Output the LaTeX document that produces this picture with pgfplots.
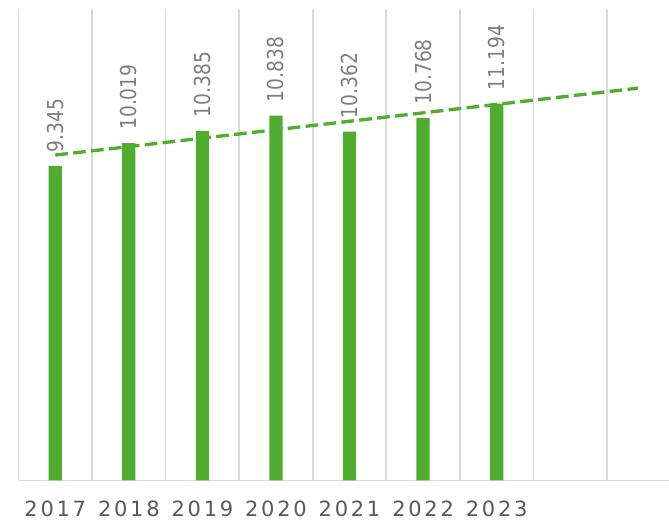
\documentclass[border=0pt]{standalone}
\usepackage{fontspec}
\setmainfont{DejaVu Sans}
\newfontfamily\labfont[FakeStretch=0.85]{DejaVu Sans}
\newfontfamily\tickfont[LetterSpace=13]{DejaVu Sans}
\usepackage{pgfplots}
\pgfplotsset{compat=1.18}
\definecolor{bargreen}{HTML}{50AD30}
\definecolor{gridgray}{HTML}{D9D9D9}
\definecolor{labgray}{HTML}{7F7F7F}
\definecolor{tickgray}{HTML}{595959}
\begin{document}
\begin{tikzpicture}
\path[use as bounding box] (0,0) rectangle (501.75pt,390pt);
\begin{axis}[
  at={(13.875pt,29.625pt)}, anchor=south west,
  scale only axis, width=487.9pt, height=353.6pt,
  xmin=-0.5, xmax=8.343, ymin=0, ymax=14,
  axis x line=bottom, axis y line=none,
  x axis line style={-, draw=gridgray, line width=1.3pt},
  xtick={0,1,2,3,4,5,6},
  xticklabels={2017,2018,2019,2020,2021,2022,2023},
  minor xtick={-0.5,0.5,1.5,2.5,3.5,4.5,5.5,6.5,7.5},
  xminorgrids=true, xmajorgrids=false,
  minor grid style={draw=gridgray, line width=1.3pt},
  major tick length=0pt, minor tick length=0pt,
  ytick=\empty,
  xticklabel style={anchor=base, yshift=-27pt, font=\tickfont\fontsize{15.75}{18}\selectfont, text=tickgray},
  clip=false,
]
\addplot[ybar, bar width=0.18, fill=bargreen, draw=none,
  point meta=explicit symbolic,
  nodes near coords={\pgfplotspointmeta},
  every node near coord/.append style={rotate=90, anchor=west, inner xsep=10pt, inner ysep=0pt, outer sep=0pt,
    font=\labfont\fontsize{16.5}{19}\selectfont, text=labgray}]
coordinates {
(0,9.345) [9.345]
(1,10.019) [10.019]
(2,10.385) [10.385]
(3,10.838) [10.838]
(4,10.362) [10.362]
(5,10.768) [10.768]
(6,11.194) [11.194]
};
\addplot[bargreen, line width=2.5pt, dash pattern=on 9.5pt off 4pt, no marks]
coordinates {(0,9.6635) (7.92,11.650)};
\end{axis}
\end{tikzpicture}
\end{document}
